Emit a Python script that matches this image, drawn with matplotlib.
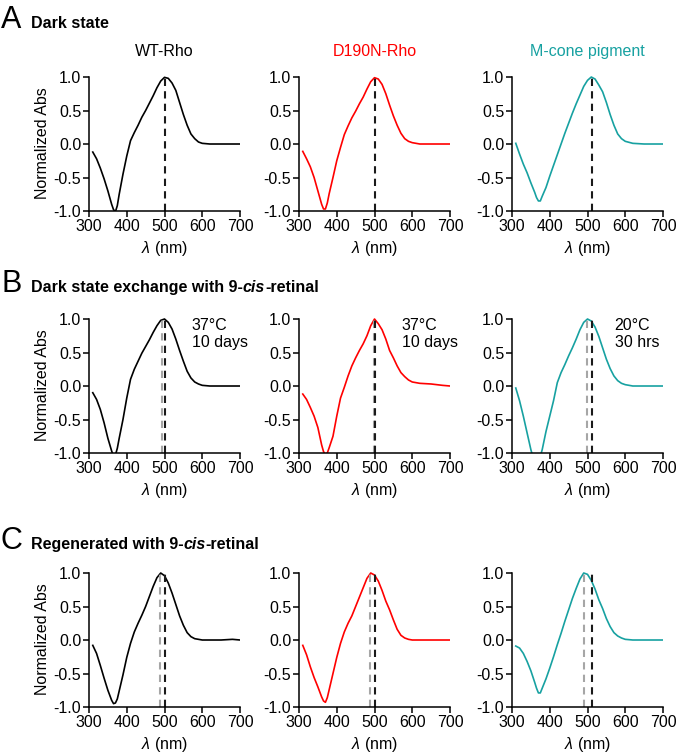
import matplotlib
matplotlib.use("Agg")
import matplotlib.pyplot as plt

plt.rcParams['font.family'] = ['Liberation Sans', 'DejaVu Sans']
plt.rcParams['mathtext.fontset'] = 'custom'
plt.rcParams['mathtext.it'] = 'Liberation Sans:italic'
plt.rcParams['mathtext.rm'] = 'Liberation Sans'

# wavelength grid (nm) shared by all spectra
wl = [310, 320, 330, 340, 350, 360, 365, 370, 375, 380, 390, 400, 410, 420, 430, 440,
      450, 460, 470, 480, 490, 500, 510, 520, 530, 540, 550, 560, 570, 580, 590, 600,
      620, 650, 680, 700]

# A: dark state
a_wt = [-0.12, -0.22, -0.36, -0.52, -0.70, -0.90, -0.98, -1.01, -0.92, -0.75, -0.45, -0.18,
        0.05, 0.17, 0.28, 0.40, 0.50, 0.61, 0.72, 0.84, 0.94, 0.995, 0.98, 0.91, 0.80, 0.62,
        0.44, 0.28, 0.15, 0.08, 0.03, 0.01, 0.0, 0.0, 0.0, 0.0]
a_d190n = [-0.11, -0.22, -0.34, -0.50, -0.70, -0.90, -0.97, -0.97, -0.88, -0.74, -0.50, -0.25,
           -0.05, 0.14, 0.27, 0.39, 0.49, 0.60, 0.70, 0.82, 0.93, 0.99, 0.97, 0.89, 0.75, 0.58,
           0.42, 0.28, 0.16, 0.08, 0.04, 0.02, 0.0, 0.0, 0.0, 0.0]
a_mcone = [0.01, -0.15, -0.30, -0.43, -0.58, -0.72, -0.80, -0.85, -0.85, -0.78, -0.65, -0.48,
           -0.32, -0.16, 0.0, 0.16, 0.31, 0.46, 0.60, 0.73, 0.86, 0.95, 1.0, 0.97, 0.88, 0.78,
           0.62, 0.44, 0.28, 0.15, 0.08, 0.04, 0.01, 0.0, 0.0, 0.0]

# B: dark state exchange with 9-cis-retinal
b_wt = [-0.10, -0.20, -0.35, -0.55, -0.78, -0.97, -1.05, -1.03, -0.93, -0.78, -0.50, -0.18,
        0.10, 0.25, 0.37, 0.49, 0.59, 0.69, 0.80, 0.90, 0.98, 1.0, 0.95, 0.85, 0.70, 0.53,
        0.37, 0.22, 0.12, 0.06, 0.03, 0.01, 0.0, 0.0, 0.0, 0.0]
b_d190n = [-0.12, -0.20, -0.32, -0.45, -0.62, -0.88, -0.98, -1.02, -1.0, -0.92, -0.75, -0.45,
           -0.18, -0.02, 0.15, 0.30, 0.42, 0.53, 0.63, 0.75, 0.90, 1.0, 0.93, 0.84, 0.70, 0.53,
           0.42, 0.30, 0.20, 0.14, 0.09, 0.06, 0.04, 0.03, 0.01, 0.0]
b_mcone = [-0.03, -0.22, -0.45, -0.70, -0.95, -1.15, -1.20, -1.18, -1.05, -0.95, -0.68, -0.45,
           -0.22, 0.05, 0.20, 0.32, 0.45, 0.57, 0.70, 0.84, 0.95, 1.0, 0.97, 0.88, 0.74, 0.57,
           0.40, 0.26, 0.15, 0.08, 0.04, 0.02, 0.0, 0.0, 0.0, 0.0]

# C: regenerated with 9-cis-retinal
c_wt = [-0.08, -0.20, -0.38, -0.57, -0.75, -0.90, -0.95, -0.94, -0.88, -0.76, -0.52, -0.26,
        -0.05, 0.12, 0.25, 0.37, 0.50, 0.65, 0.80, 0.93, 1.0, 0.96, 0.85, 0.70, 0.53, 0.36,
        0.22, 0.11, 0.05, 0.02, 0.01, 0.0, 0.0, 0.0, 0.01, 0.0]
c_d190n = [-0.08, -0.22, -0.40, -0.56, -0.70, -0.85, -0.91, -0.93, -0.86, -0.74, -0.50, -0.26,
           -0.05, 0.12, 0.25, 0.36, 0.50, 0.64, 0.78, 0.92, 1.0, 0.97, 0.88, 0.74, 0.58, 0.45,
           0.30, 0.16, 0.07, 0.03, 0.01, 0.0, 0.0, 0.0, 0.0, 0.0]
c_mcone = [-0.09, -0.12, -0.20, -0.32, -0.46, -0.63, -0.72, -0.79, -0.79, -0.72, -0.58, -0.42,
           -0.25, -0.07, 0.10, 0.28, 0.45, 0.62, 0.77, 0.91, 1.0, 0.98, 0.89, 0.76, 0.60, 0.47,
           0.32, 0.20, 0.11, 0.06, 0.03, 0.01, 0.0, 0.0, 0.0, 0.0]

pigments = ['WT-Rho', 'D190N-Rho', 'M-cone pigment']
colors = ['black', '#ff0000', '#17a1a1']

rows = [
    {'letter': 'A', 'title': ['Dark state'], 'data': [a_wt, a_d190n, a_mcone],
     'lmax_11cis': [502, 502, 512], 'lmax_9cis': None, 'notes': None},
    {'letter': 'B', 'title': ['Dark state exchange with 9-', 'cis', '-retinal'],
     'data': [b_wt, b_d190n, b_mcone],
     'lmax_11cis': [502, 502, 512], 'lmax_9cis': [494, 498, 498],
     'notes': ['37\u00b0C\n10 days', '37\u00b0C\n10 days', '20\u00b0C\n30 hrs']},
    {'letter': 'C', 'title': ['Regenerated with 9-', 'cis', '-retinal'],
     'data': [c_wt, c_d190n, c_mcone],
     'lmax_11cis': [502, 502, 512], 'lmax_9cis': [487, 489, 490], 'notes': None},
]

W, H = 677, 753
fig = plt.figure(figsize=(W / 100, H / 100), dpi=100)

lefts = [89, 299, 512]
ax_w = 151
row_tops = [75, 317, 571]   # pixel y of axes top (data 1.03)
ax_h = 136
head_y = [28, 292, 549]     # baseline of section headers

for r, row in enumerate(rows):
    for c in range(3):
        ax = fig.add_axes([lefts[c] / W, 1 - (row_tops[r] + ax_h) / H, ax_w / W, ax_h / H])
        ax.plot(wl, row['data'][c], color=colors[c], lw=1.2)
        if row['lmax_9cis'] is not None:
            ax.plot([row['lmax_9cis'][c]] * 2, [-1, 1], color='#a6a6a6', lw=1.5,
                    dashes=(3.5, 2.5))
        ax.plot([row['lmax_11cis'][c]] * 2, [-1, 1], color='#1a1a1a', lw=1.5,
                dashes=(3.5, 2.5))
        ax.set_xlim(300, 700)
        ax.set_ylim(-1, 1.03)
        ax.spines['top'].set_visible(False)
        ax.spines['right'].set_visible(False)
        ax.spines['left'].set_bounds(-1, 1)
        for s in ('left', 'bottom'):
            ax.spines[s].set_linewidth(1.1)
        ax.set_xticks([300, 400, 500, 600, 700])
        ax.set_yticks([-1.0, -0.5, 0.0, 0.5, 1.0])
        ax.set_yticklabels(['-1.0', '-0.5', '0.0', '0.5', '1.0'])
        ax.tick_params(direction='out', length=4, width=1.1, labelsize=11.5, pad=1.5)
        ax.set_xlabel(r'$\lambda$ (nm)', fontsize=11.5, labelpad=4)
        if c == 0:
            ax.set_ylabel('Normalized Abs', fontsize=11.5, labelpad=3)
        if r == 0:
            ax.set_title(pigments[c], color=colors[c], fontsize=11.5, pad=14)
        if row['notes'] is not None:
            ax.text(0.68, 0.995, row['notes'][c], transform=ax.transAxes, fontsize=11.5,
                    va='top', ha='left', linespacing=1.2)

# section headers with mixed upright / italic pieces
fig.canvas.draw()
renderer = fig.canvas.get_renderer()
for r, row in enumerate(rows):
    y = 1 - head_y[r] / H
    fig.text(1 / W, y, row['letter'], fontsize=22, va='baseline', ha='left')
    x = 31 / W
    for i, piece in enumerate(row['title']):
        t = fig.text(x, y, piece, fontsize=11.5, fontweight='bold', va='baseline', ha='left',
                     fontstyle='italic' if piece == 'cis' else 'normal')
        bb = t.get_window_extent(renderer)
        x = bb.x1 / W

fig.savefig('out.png', dpi=100)
